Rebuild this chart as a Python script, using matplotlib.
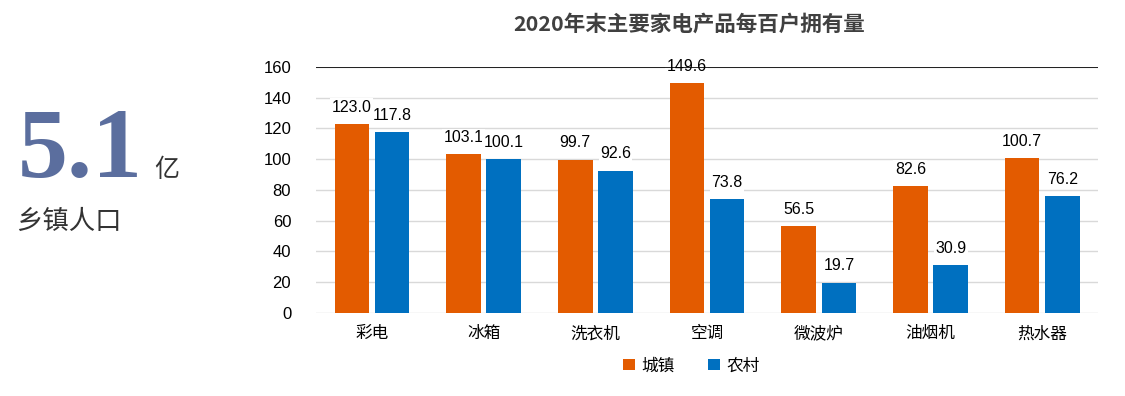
import numpy as np
import matplotlib.pyplot as plt

plt.rcParams['font.family'] = ['Liberation Sans', 'Noto Sans CJK SC', 'DejaVu Sans']

categories = ["彩电", "冰箱", "洗衣机", "空调", "微波炉", "油烟机", "热水器"]
urban = [123.0, 103.1, 99.7, 149.6, 56.5, 82.6, 100.7]
rural = [117.8, 100.1, 92.6, 73.8, 19.7, 30.9, 76.2]
series_names = ["城镇", "农村"]
yticks = [0, 20, 40, 60, 80, 100, 120, 140, 160]

c_urban = "#E35B00"
c_rural = "#0070C0"

fig = plt.figure(figsize=(11.25, 3.96), dpi=100)
ax = fig.add_axes([0.281, 0.21, 0.695, 0.621])

x = np.arange(len(categories))
w = 0.31
off = 0.18
b1 = ax.bar(x - off, urban, w, color=c_urban, label=series_names[0], zorder=2)
b2 = ax.bar(x + off, rural, w, color=c_rural, label=series_names[1], zorder=2)

for bars in (b1, b2):
    for r in bars:
        ax.text(r.get_x() + r.get_width() / 2, r.get_height() + 6, f"{r.get_height():.1f}",
                ha="center", va="bottom", fontsize=11.5, color="#000000", zorder=3,
                bbox=dict(facecolor="white", edgecolor="none", pad=1))

ax.set_xlim(-0.5, len(categories) - 0.5)
ax.set_ylim(0, 160)
ax.set_yticks(yticks)
ax.set_xticks(x)
ax.set_xticklabels(categories, fontsize=12, family=['Noto Sans CJK SC', 'DejaVu Sans'])
ax.tick_params(axis="y", labelsize=12, length=0, pad=18)
ax.tick_params(axis="x", length=0, pad=9)
ax.grid(axis="y", color="#D9D9D9", linewidth=1, zorder=0)
ax.axhline(160, color="black", linewidth=1.2, zorder=3)
for s in ax.spines.values():
    s.set_visible(False)

leg = ax.legend(loc="upper center", bbox_to_anchor=(0.48, -0.12), ncol=2, frameon=False,
                handlelength=0.7, handleheight=0.7, columnspacing=2.0, handletextpad=0.4,
                prop={'family': ['Noto Sans CJK SC'], 'size': 12})

fig.text(0.613, 0.94, "2020年末主要家电产品每百户拥有量", ha="center", va="center",
         fontsize=15.5, fontweight="bold", color="#404040",
         family=['Noto Sans CJK SC', 'DejaVu Sans'])

fig.text(0.016, 0.552, "5.1", ha="left", va="baseline", fontsize=72, fontweight="bold",
         color="#5B6E9E", family=['Liberation Serif'])
fig.text(0.137, 0.552, "亿", ha="left", va="baseline", fontsize=18, color="#333333",
         family=['Noto Sans CJK SC'])
fig.text(0.014, 0.44, "乡镇人口", ha="left", va="center", fontsize=19, color="#333333",
         family=['Noto Sans CJK SC'])

fig.savefig("out.png", dpi=100)
